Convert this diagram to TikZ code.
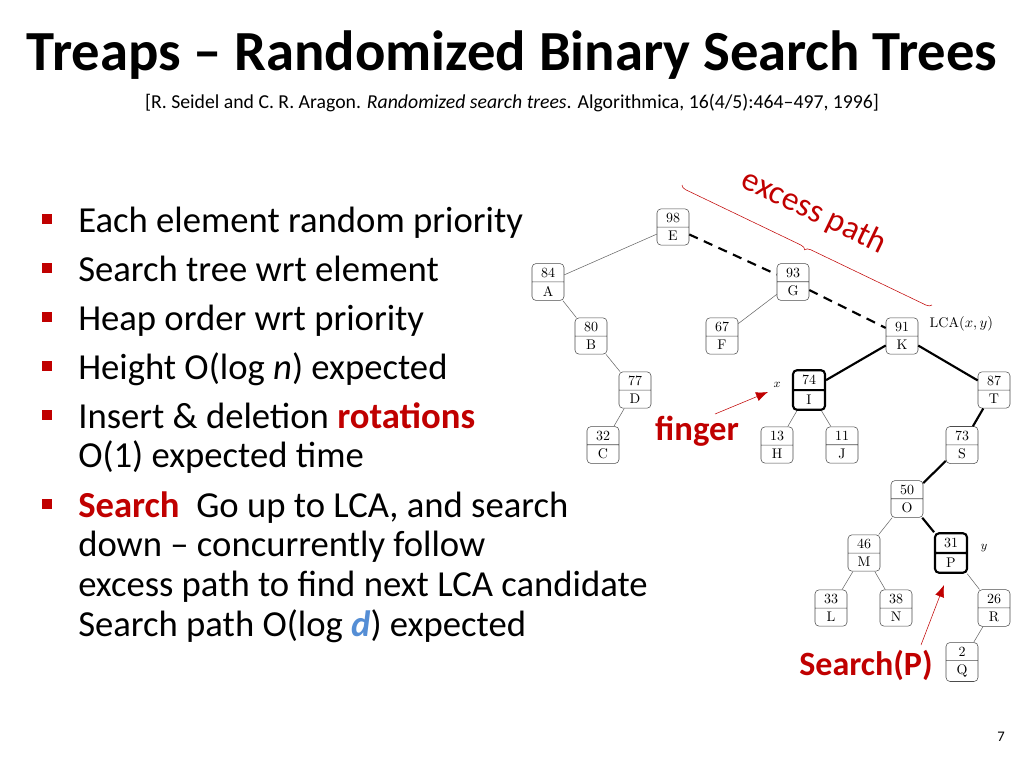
\documentclass[tikz,border=0pt]{standalone}
\usepackage{fontspec}
\setmainfont{Carlito}
\newfontfamily\lmfont{Latin Modern Roman}
\usetikzlibrary{shapes.multipart,positioning,decorations.pathreplacing,arrows.meta}
\definecolor{slidered}{RGB}{192,0,0}
\definecolor{slideblue}{RGB}{85,142,213}
\begin{document}
\begin{tikzpicture}[x=0.75pt,y=-0.75pt]
    %styles
    \tikzstyle{treap}=[rectangle split,rectangle split parts=2,draw=black!70,rounded corners=3pt,
        minimum width=24pt,inner xsep=2pt,inner ysep=3pt,align=center,font=\lmfont\fontsize{10.5}{12}\selectfont,fill=white]
    \tikzstyle{marked}=[treap,draw=black,line width=1.6pt]
    \tikzstyle{tedge}=[draw=black!60,thin]
    \tikzstyle{pathedge}=[line width=1.6pt]
    \tikzstyle{excess}=[line width=1.6pt,dash pattern=on 7pt off 5pt]
    \tikzstyle{pointer}=[-{Latex[length=9pt,width=7pt]},slidered,thin]
    \tikzstyle{bullet}=[fill=slidered,minimum size=7pt,inner sep=0pt]
    \useasboundingbox (0,0) rectangle (1024,768);
    %title
    \node[font=\bfseries\fontsize{42.5}{46}\selectfont] (title) at (512,55) {Treaps -- Randomized Binary Search Trees};
    \node[font=\fontsize{14.8}{17}\selectfont] (cite) at (512,103) {[R. Seidel and C. R. Aragon. \emph{Randomized search trees}. Algorithmica, 16(4/5):464--497, 1996]};
    %bullets
    \foreach \y/\t in {222/Each element random priority,271/Search tree wrt element,320/Heap order wrt priority,
        369/{Height O(log \emph{n}) expected},418/{Insert \& deletion \textcolor{slidered}{\textbf{rotations}}},
        507/{\textcolor{slidered}{\textbf{Search}}\ \ Go up to LCA, and search}}{
        \node[bullet] at (47,\y-3) {};
        \node[anchor=base west,inner sep=0pt,font=\fontsize{27.5}{31}\selectfont] at (78,\y+10) {\t};
    }
    \foreach \y/\t in {457/O(1) expected time,546/down -- concurrently follow,586/excess path to find next LCA candidate,
        626/{Search path O(log \textcolor{slideblue}{\textbf{\emph{d}}}) expected}}{
        \node[anchor=base west,inner sep=0pt,font=\fontsize{27.5}{31}\selectfont] at (78,\y+10) {\t};
    }
    %nodes
    \node[treap] (E) at (673,227) {98\nodepart{two}E};
    \node[treap] (A) at (548,282) {84\nodepart{two}A};
    \node[treap] (B) at (591,336) {80\nodepart{two}B};
    \node[treap] (D) at (635,390) {77\nodepart{two}D};
    \node[treap] (C) at (603,445) {32\nodepart{two}C};
    \node[treap] (G) at (793,282) {93\nodepart{two}G};
    \node[treap] (F) at (722,336) {67\nodepart{two}F};
    \node[treap] (K) at (902,336) {91\nodepart{two}K};
    \node[marked] (I) at (809,390) {74\nodepart{two}I};
    \node[treap] (T) at (994,390) {87\nodepart{two}T};
    \node[treap] (H) at (777,445) {13\nodepart{two}H};
    \node[treap] (J) at (842,445) {11\nodepart{two}J};
    \node[treap] (S) at (962,445) {73\nodepart{two}S};
    \node[treap] (O) at (907,499) {50\nodepart{two}O};
    \node[treap] (M) at (864,553) {46\nodepart{two}M};
    \node[marked] (P) at (951,553) {31\nodepart{two}P};
    \node[treap] (L) at (831,608) {33\nodepart{two}L};
    \node[treap] (N) at (896,608) {38\nodepart{two}N};
    \node[treap] (R) at (994,608) {26\nodepart{two}R};
    \node[treap] (Q) at (962,662) {2\nodepart{two}Q};
    %labels
    \node[font=\lmfont\small] (xlab) at (777,385) {$x$};
    \node[font=\lmfont\small] (ylab) at (984,548) {$y$};
    \node[font=\lmfont\fontsize{10.5}{12}\selectfont,anchor=west] (lca) at (925,324) {LCA$(x,y)$};
    \node[font=\bfseries\fontsize{26}{30}\selectfont,slidered] (finger) at (697,431) {finger};
    \node[font=\bfseries\fontsize{25.5}{30}\selectfont,slidered] (search) at (866,665) {Search(P)};
    \node[font=\fontsize{11}{13}\selectfont] (page) at (1001,737) {7};
    %edges
    \foreach \a/\b in {E/A,A/B,B/D,D/C,G/F,I/H,I/J,O/M,M/L,M/N,P/R,R/Q}
        \draw[tedge] (\a) -- (\b);
    \foreach \a/\b in {K/I,K/T,T/S,S/O,O/P}
        \draw[pathedge] (\a) -- (\b);
    \draw[excess] (E) -- (G);
    \draw[excess] (G) -- (K);
    %excess path
    \coordinate (ep1) at (682,185);
    \coordinate (ep2) at (932,305);
    \draw[slidered,thin,decorate,decoration={brace,mirror,amplitude=4pt}] (ep1) -- (ep2);
    \node[slidered,rotate=-25.6,font=\fontsize{25}{29}\selectfont] (exlab) at (814,212) {excess path};
    %arrows
    \coordinate (f1) at (715,414);
    \coordinate (f2) at (768,392);
    \draw[pointer] (f1) -- (f2);
    \coordinate (s1) at (921,645);
    \coordinate (s2) at (944,585);
    \draw[pointer] (s1) -- (s2);
\end{tikzpicture}
\end{document}
